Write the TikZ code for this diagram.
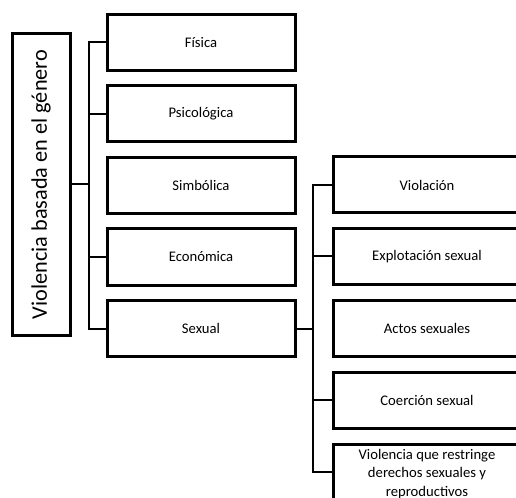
\documentclass[tikz,border=0pt]{standalone}
\usepackage{fontspec}
\setmainfont{Carlito}
\begin{document}
\begin{tikzpicture}[x=0.75pt,y=-0.75pt,
  box/.style={draw=black,line width=2.25pt,minimum width=141pt,minimum height=42pt,inner sep=1pt,align=center,font=\fontsize{11}{14.5}\selectfont},
  rbox/.style={box,minimum width=141pt},
  conn/.style={draw=black,line width=1.5pt}]
\clip (0,0) rectangle (516,498);
\fill[white] (0,0) rectangle (516,498);
\node[draw=black,line width=2.25pt,rotate=90,minimum width=225.75pt,minimum height=43.5pt,inner sep=0pt,font=\fontsize{16.7}{19}\selectfont] (root) at (41,184.5) {Violencia basada en el género};
\node[box] (fis) at (201,42.5) {Física};
\node[box] (psi) at (201,114) {Psicológica};
\node[box] (sim) at (201,185.5) {Simbólica};
\node[box] (eco) at (201,257) {Económica};
\node[box] (sex) at (201,328.5) {Sexual};
\node[rbox] (vio) at (427,185) {Violación};
\node[rbox] (exp) at (427,256.5) {Explotación sexual};
\node[rbox] (act) at (427,328.5) {Actos sexuales};
\node[rbox] (coe) at (427,400) {Coerción sexual};
\node[rbox,minimum height=42pt] (res) at (427,472) {};
\node[font=\fontsize{11}{13.6}\selectfont,align=center,inner sep=0pt] (restxt) at (427,474) {Violencia que restringe\\derechos sexuales y\\reproductivos};
\coordinate (b1) at (89,0);
\coordinate (b2) at (313,0);
\draw[conn] (root.south) -- (root.south -| b1);
\draw[conn] (fis.west) -- (fis.west -| b1) -- (sex.west -| b1) -- (sex.west);
\draw[conn] (psi.west) -- (psi.west -| b1);
\draw[conn] (eco.west) -- (eco.west -| b1);
\draw[conn] (sex.east) -- (sex.east -| b2);
\draw[conn] (vio.west) -- (vio.west -| b2) -- (res.west -| b2) -- (res.west);
\draw[conn] (exp.west) -- (exp.west -| b2);
\draw[conn] (coe.west) -- (coe.west -| b2);
\end{tikzpicture}
\end{document}
